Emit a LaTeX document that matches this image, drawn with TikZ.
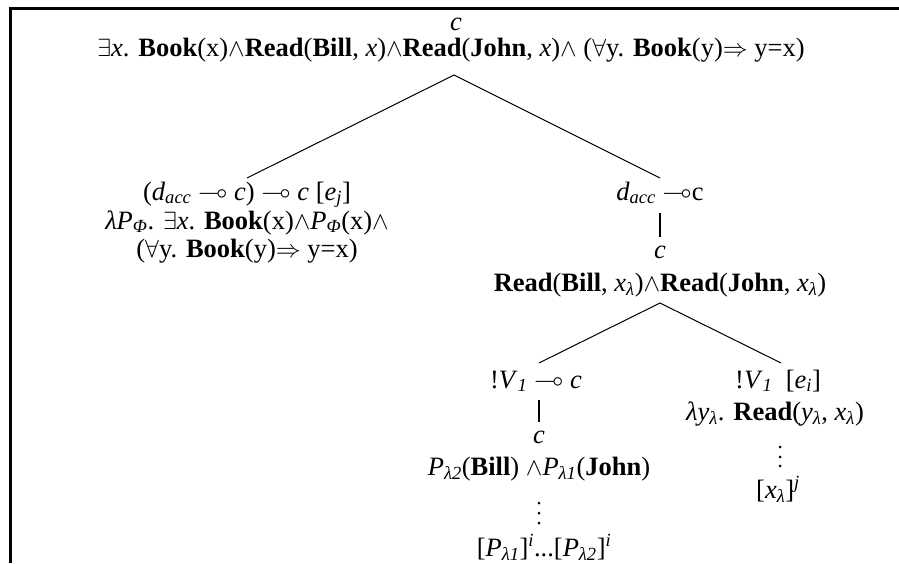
\documentclass[tikz,border=0pt]{standalone}
\usepackage{amssymb}
\usepackage{fontspec}
\setmainfont{Liberation Serif}
\newcommand\sbx[1]{\textsubscript{\itshape #1}}
\newcommand\spx[1]{\textsuperscript{\itshape #1}}
\tikzset{
  txt/.style={anchor=base, inner sep=0pt, font=\fontsize{26.5}{28}\selectfont},
  branch/.style={line width=1pt},
  bar/.style={line width=2.2pt},
  frame/.style={line width=3pt},
  dotmark/.style={fill=black}
}
\begin{document}
\begin{tikzpicture}[x=1pt,y=-1pt]
\useasboundingbox (0,0) rectangle (899,563);
\draw[frame] (10.5,563) -- (10.5,8.5) -- (899,8.5);
% root
\node[txt] (rc) at (456,30) {\textit{c}};
\node[txt] (rf) at (451,56) {$\exists$\textit{x}. \textbf{Book}(x)$\wedge$\textbf{Read}(\textbf{Bill}, \textit{x})$\wedge$\textbf{Read}(\textbf{John}, \textit{x})$\wedge$ ($\forall$y. \textbf{Book}(y)$\Rightarrow$ y=x)};
% left child
\node[txt] (l1) at (247,200) {(\textit{d}\sbx{acc} $\multimap$ \textit{c}) $\multimap$ \textit{c} [\textit{e}\sbx{j}]};
\node[txt] (l2) at (247,229) {\textit{λP}\sbx{Φ}. $\exists$\textit{x}. \textbf{Book}(x)$\wedge$\textit{P}\sbx{Φ}(x)$\wedge$};
\node[txt] (l3) at (247,257) {($\forall$y. \textbf{Book}(y)$\Rightarrow$ y=x)};
% right child
\node[txt] (r1) at (660,200) {\textit{d}\sbx{acc} $\multimap$c};
\node[txt] (r2) at (660,258) {\textit{c}};
\node[txt] (r3) at (660,291) {\textbf{Read}(\textbf{Bill}, \textit{x}\sbx{λ})$\wedge$\textbf{Read}(\textbf{John}, \textit{x}\sbx{λ})};
% second level left
\node[txt] (a1) at (536,388) {!\textit{V}\sbx{1} $\multimap$ \textit{c}};
\node[txt] (a2) at (539,443) {\textit{c}};
\node[txt] (a3) at (539,475) {\textit{P}\sbx{λ2}(\textbf{Bill}) $\wedge$\textit{P}\sbx{λ1}(\textbf{John})};
\node[txt] (a5) at (544,556) {[\textit{P}\sbx{λ1}]\spx{i}...[\textit{P}\sbx{λ2}]\spx{i}};
% second level right
\node[txt] (b1) at (778,388) {!\textit{V}\sbx{1}\ \ [\textit{e}\sbx{i}]};
\node[txt] (b2) at (775,420) {\textit{λy}\sbx{λ}. \textbf{Read}(\textit{y}\sbx{λ}, \textit{x}\sbx{λ})};
\node[txt] (b4) at (778,498) {[\textit{x}\sbx{λ}]\spx{j}};
% vertical ellipses
\foreach \yy in {503,513,523} \fill[dotmark] (539,\yy) circle (1.5);
\foreach \yy in {447,457,466} \fill[dotmark] (780,\yy) circle (1.5);
% connector ends
\coordinate (t0) at (454,75);
\coordinate (tl) at (247,178);
\coordinate (tr) at (660,178);
\coordinate (u0) at (660,303);
\coordinate (ul) at (539,363);
\coordinate (ur) at (781,363);
\coordinate (v1) at (660,213);
\coordinate (v2) at (660,237);
\coordinate (w1) at (539,400);
\coordinate (w2) at (539,422);
\draw[branch] (tl) -- (t0) -- (tr);
\draw[branch] (ul) -- (u0) -- (ur);
\draw[bar] (v1) -- (v2);
\draw[bar] (w1) -- (w2);
\end{tikzpicture}
\end{document}
